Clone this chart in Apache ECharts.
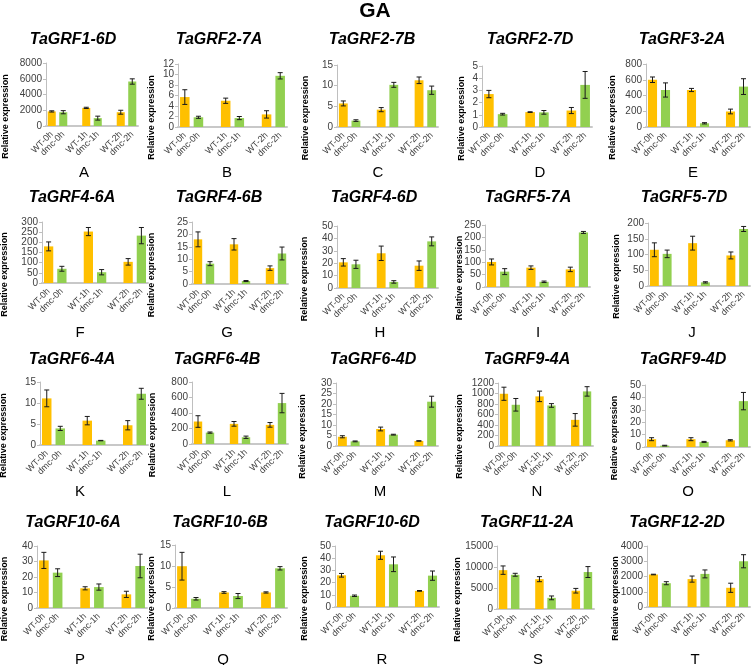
<!DOCTYPE html>
<html><head><meta charset="utf-8">
<script src="https://cdn.jsdelivr.net/npm/echarts@6/dist/echarts.min.js"></script>
<style>html,body{margin:0;padding:0;background:#fff}#c{width:751px;height:665px}</style>
</head><body><div id="c"></div>
<script>
// ---- data ----
const categories = ['WT-0h','dmc-0h','','WT-1h','dmc-1h','','WT-2h','dmc-2h'];
const genes = ['TaGRF1-6D','TaGRF2-7A','TaGRF2-7B','TaGRF2-7D','TaGRF3-2A',
  'TaGRF4-6A','TaGRF4-6B','TaGRF4-6D','TaGRF5-7A','TaGRF5-7D',
  'TaGRF6-4A','TaGRF6-4B','TaGRF6-4D','TaGRF9-4A','TaGRF9-4D',
  'TaGRF10-6A','TaGRF10-6B','TaGRF10-6D','TaGRF11-2A','TaGRF12-2D'];
const letters = ['A','B','C','D','E','F','G','H','I','J','K','L','M','N','O','P','Q','R','S','T'];
const yMax  = [8000,12,15,5,800, 300,25,50,250,200, 15,800,30,1200,50, 40,15,50,15000,4000];
const yStep = [2000,2,5,1,200, 50,5,10,50,50, 5,200,5,200,10, 10,5,10,5000,1000];
const wt0     = [1850,5.7,5.7,2.7,600, 180,18.0,20.7,101,115, 11.1,290,4.4,995,6.3, 30.7,9.95,26,9250,2130];
const wt0Err  = [80,1.4,0.6,0.3,35, 22,3,3,12,22, 2,75,0.5,125,1.2, 5.2,3.3,1.5,1000,20];
const dmc0    = [1750,1.85,1.55,1.05,470, 70,8.2,19.1,62,102, 3.95,147,2.2,785,1.1, 22.8,2.2,9.2,8150,1560];
const dmc0Err = [200,0.2,0.2,0.07,90, 12,0.8,3.3,12,12, 0.5,8,0.2,120,0.3, 2.5,0.3,0.6,350,100];
const wt1     = [2300,5.0,4.2,1.22,470, 253,16.0,28,78,136, 5.8,260,8.1,945,6.3, 12.7,3.7,42.4,7100,1830];
const wt1Err  = [80,0.5,0.5,0.03,20, 20,2.3,5.8,7,22, 1.0,30,0.9,100,1.2, 1,0.2,3.3,600,200];
const dmc1    = [1000,1.7,10.2,1.2,47, 53,1.2,4.9,21,11.5, 1.05,87,5.4,772,4.1, 13.5,2.85,35,2650,2170];
const dmc1Err = [250,0.3,0.6,0.15,8, 13,0.2,1,3,2, 0.05,15,0.2,35,0.4, 2,0.6,6,450,260];
const wt2     = [1750,2.4,11.3,1.35,197, 104,6.4,18,71,97, 4.7,247,2.4,498,5.4, 8.8,3.7,13.2,4350,1260];
const wt2Err  = [250,0.7,0.8,0.25,30, 16,0.9,3.8,9,11, 1.1,30,0.1,120,0.5, 2,0.15,0.3,550,300];
const dmc2    = [5650,9.75,8.9,3.45,513, 233,12.3,37.6,220,181, 12.2,528,21.1,1040,37, 27.1,9.45,25.7,8800,3000];
const dmc2Err = [340,0.6,1.0,1.1,100, 40,2.6,3.6,4,8, 1.3,125,2.6,90,7, 7.6,0.4,3.8,1300,430];

// ---- layout (pixels) ----
const plotBox = [[46,63,92,63],[178,64,109,63],[337,65,101,62],[482,66,110,61],[646,64,104,63],
 [42,222,106,61],[192,222,96,62],[337,226,101,62],[485,225,105,62],[648,223,102,63],
 [40,382,108,63],[192,382,96,62],[336,383,102,63],[498,383,95,63],[645,385,105,62],
 [37,546,110,62],[175,545,112,63],[335,546,104,61],[497,546,97,63],[647,546,103,61]];
const titlePos = [[73,40],[219,40],[372,40],[530,40],[682,40],
 [72,198],[219,198],[374,198],[528,198],[684,198],
 [72,360],[217,360],[373,360],[527,360],[683,360],
 [73,523],[220,523],[372,523],[527,523],[677,523]];
const letterPos = [[84,173],[227,173],[378,173],[540,173],[693,173],
 [80,333],[227,333],[380,333],[538,333],[692,333],
 [80,492],[227,492],[380,492],[537,492],[688,492],
 [80,660],[223,660],[382,660],[538,660],[695,660]];
const yNameX = [6,152,306,462,613, 5,152,305,460,617, 4,153,303,460,615, 5,152,305,458,616];

const ORANGE = '#FFC000', GREEN = '#92D050';
const FONT = "'Liberation Sans', Arial, sans-serif";

const grids = [], xAxes = [], yAxes = [], series = [], graphics = [];
graphics.push({type:'text', x:375, y:11, style:{text:'GA', font:'bold 21px '+FONT, fill:'#000', align:'center', verticalAlign:'middle'}});

for (let i = 0; i < 20; i++) {
  const [l,t,w,h] = plotBox[i];
  grids.push({left:l, top:t, width:w, height:h, containLabel:false, outerBoundsMode:'none'});
  xAxes.push({type:'category', gridIndex:i, data:categories,
    axisLine:{lineStyle:{color:'#C8C8C8', width:2}}, axisTick:{show:false},
    axisLabel:{interval:0, rotate:45, fontSize:9, color:'#404040', margin:7, fontFamily:FONT}});
  yAxes.push({type:'value', gridIndex:i, min:0, max:yMax[i], interval:yStep[i],
    axisLine:{show:true, lineStyle:{color:'#BFBFBF', width:1}},
    axisTick:{show:true, length:3, lineStyle:{color:'#BFBFBF'}},
    splitLine:{show:false},
    axisLabel:{fontSize:10, color:'#404040', margin:4, fontFamily:FONT, formatter:v=>String(v)}});
  const vals = [wt0[i], dmc0[i], null, wt1[i], dmc1[i], null, wt2[i], dmc2[i]];
  const errs = [wt0Err[i], dmc0Err[i], null, wt1Err[i], dmc1Err[i], null, wt2Err[i], dmc2Err[i]];
  series.push({type:'bar', xAxisIndex:i, yAxisIndex:i, barWidth:'70%', silent:true,
    data: vals.map((v,k)=> v==null ? null : {value:v, itemStyle:{color: k%3===0 ? ORANGE : GREEN}})});
  const ed = [];
  vals.forEach((v,k)=>{ if (v!=null) ed.push([k, v, errs[k]]); });
  series.push({type:'custom', xAxisIndex:i, yAxisIndex:i, silent:true, z:10, data:ed,
    renderItem:(params, api)=>{
      const x = api.value(0), m = api.value(1), e = api.value(2);
      const a = api.coord([x, m+e]), b = api.coord([x, Math.max(0, m-e)]);
      const cw = 2.5, st = {stroke:'#1a1a1a', lineWidth:1};
      return {type:'group', children:[
        {type:'line', shape:{x1:a[0], y1:a[1], x2:b[0], y2:b[1]}, style:st},
        {type:'line', shape:{x1:a[0]-cw, y1:a[1], x2:a[0]+cw, y2:a[1]}, style:st},
        {type:'line', shape:{x1:b[0]-cw, y1:b[1], x2:b[0]+cw, y2:b[1]}, style:st}
      ]};
    }});
  graphics.push({type:'text', x:titlePos[i][0], y:titlePos[i][1],
    style:{text:genes[i], font:'italic bold 16px '+FONT, fill:'#000', align:'center', verticalAlign:'middle'}});
  graphics.push({type:'text', x:letterPos[i][0], y:letterPos[i][1],
    style:{text:letters[i], font:'15px '+FONT, fill:'#000', align:'center', verticalAlign:'middle'}});
  graphics.push({type:'text', x:yNameX[i], y:t + h/2 + 22, rotation:Math.PI/2,
    style:{text:'Relative expression', font:'bold 9px '+FONT, fill:'#000', align:'center', verticalAlign:'middle'}});
}

const chart = echarts.init(document.getElementById('c'), null, {renderer:'canvas'});
chart.setOption({animation:false, backgroundColor:'#fff', grid:grids, xAxis:xAxes, yAxis:yAxes, series:series, graphic:graphics});
</script>
</body></html>
